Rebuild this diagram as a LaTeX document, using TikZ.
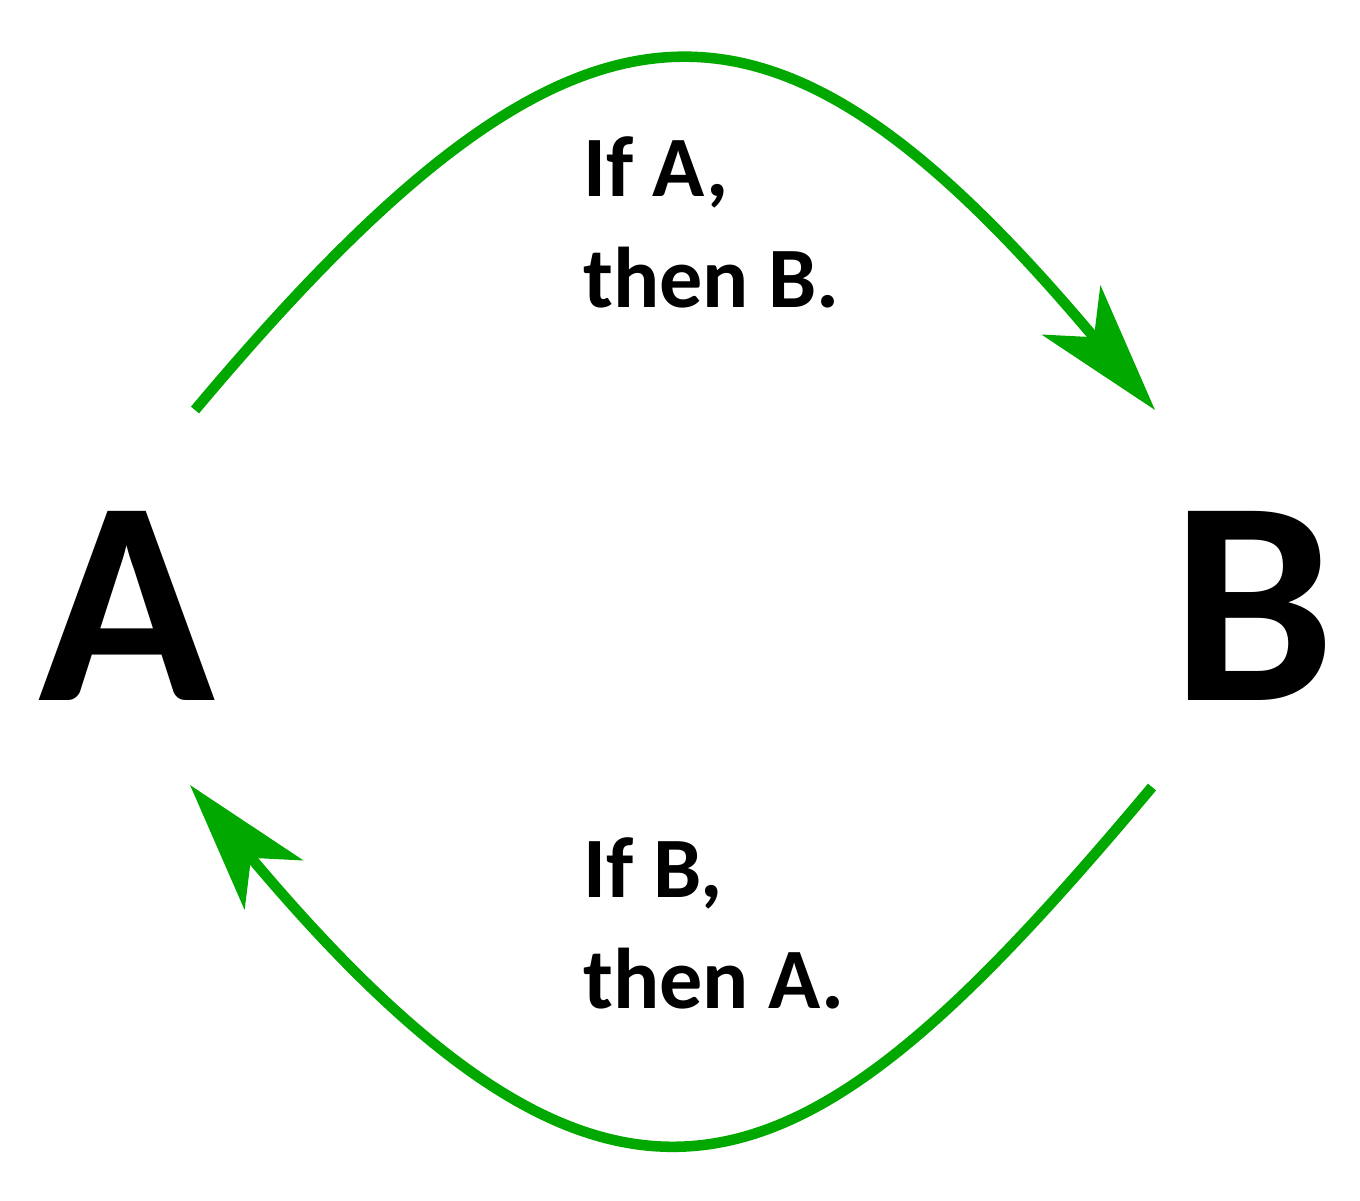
\documentclass[tikz,border=0pt]{standalone}
\usepackage{fontspec}
\setmainfont{Carlito}
\usepackage{tikz}
\usetikzlibrary{positioning,calc,arrows.meta}
\definecolor{arrgreen}{RGB}{0,168,0}
\tikzset{bigletter/.style={inner sep=0pt, outer sep=0pt, font=\fontsize{83}{90}\selectfont\bfseries}}
\tikzset{rulelbl/.style={inner sep=0pt, align=left, font=\fontsize{24.5}{31.6}\selectfont\bfseries}}
\tikzset{arrg/.style={draw=arrgreen, line width=3pt, -{Stealth[length=13mm, width=7.6mm, inset=3.5mm]}}}

\begin{document}
\begin{tikzpicture}
		\useasboundingbox (0,0) rectangle (13.6,-12);
		\node[bigletter, anchor=base west] (A) at (0.38,-7.00) {A};
		\node[bigletter, anchor=base east] (B) at (13.35,-7.00) {B};
		% ends of the two arrows
		\coordinate (A-top) at (1.95,-4.10);
		\coordinate (B-top) at (11.55,-4.10);
		\coordinate (B-bot) at (11.52,-7.87);
		\coordinate (A-bot) at (1.90,-7.85);
		\draw[arrg] (A-top) to[out=50,in=130,looseness=1.6]
			node[rulelbl, anchor=base west, pos=0.5, xshift=-0.97cm, yshift=-2.42cm]
				{If A,\\then B.}
			(B-top);
		\draw[arrg] (B-bot) to[out=-130,in=-50,out looseness=1.4,in looseness=1.82]
			node[rulelbl, anchor=base west, pos=0.5, xshift=-1.31cm, yshift=1.26cm]
				{If B,\\then A.}
			(A-bot);
\end{tikzpicture}
\end{document}
